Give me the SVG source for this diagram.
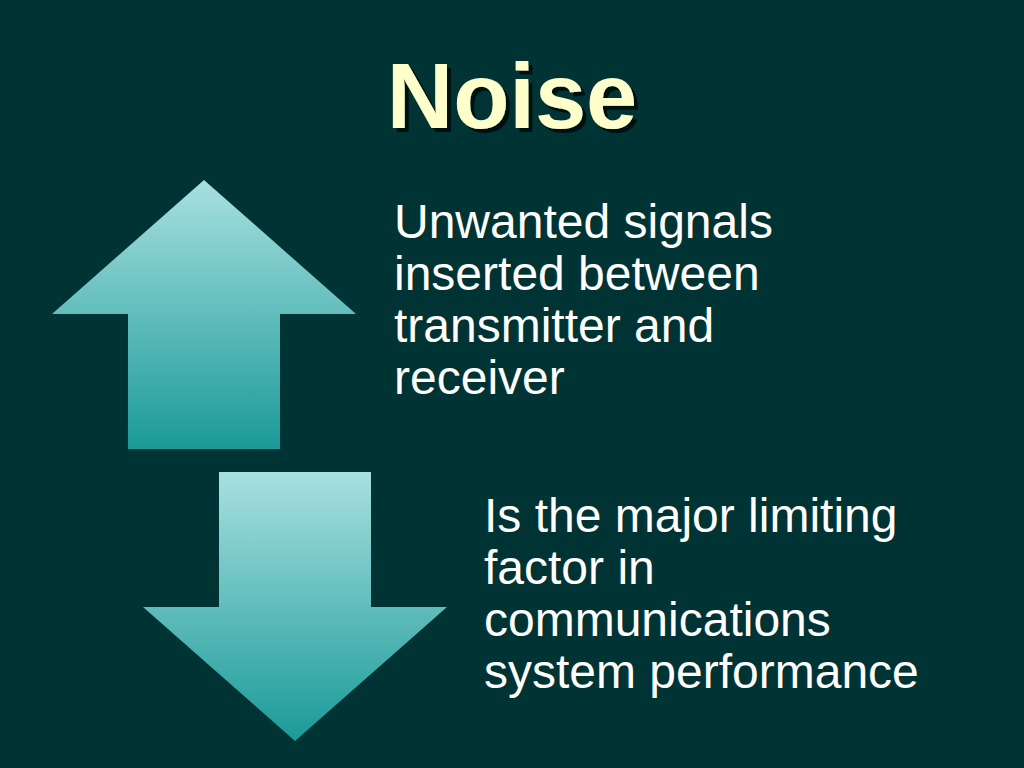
<svg xmlns="http://www.w3.org/2000/svg" width="1024" height="768" viewBox="0 0 1024 768">
<defs>
<linearGradient id="gu" x1="0" y1="0" x2="0" y2="1"><stop offset="0" stop-color="#a8e0e0"/><stop offset="1" stop-color="#1a9a98"/></linearGradient>
<filter id="sh" x="-10%" y="-10%" width="130%" height="130%"><feDropShadow dx="4" dy="4" stdDeviation="0.5" flood-color="#000000" flood-opacity="0.7"/></filter>
<style>.t{font-family:"Liberation Sans",Arial,sans-serif;font-size:48px;fill:#ffffff}</style>
</defs>
<rect width="1024" height="768" fill="#003333"/>
<g id="title"><text x="512" y="128" text-anchor="middle" font-family="Liberation Sans,Arial,sans-serif" font-weight="bold" font-size="92" fill="#ffffcc" filter="url(#sh)">Noise</text></g>
<g id="up"><polygon points="204,180 356,314 280,314 280,449 128,449 128,314 52,314" fill="url(#gu)"/></g>
<g id="down"><polygon points="219,472 371,472 371,607 447,607 295,741 143,607 219,607" fill="url(#gu)"/></g>
<g id="text1"><text class="t"><tspan x="394" y="238">Unwanted signals</tspan><tspan x="394" y="290">inserted between</tspan><tspan x="394" y="342">transmitter and</tspan><tspan x="394" y="394">receiver</tspan></text></g>
<g id="text2"><text class="t"><tspan x="484" y="532">Is the major limiting</tspan><tspan x="484" y="584">factor in</tspan><tspan x="484" y="636">communications</tspan><tspan x="484" y="688">system performance</tspan></text></g>
<g id="connectors"/>
</svg>
